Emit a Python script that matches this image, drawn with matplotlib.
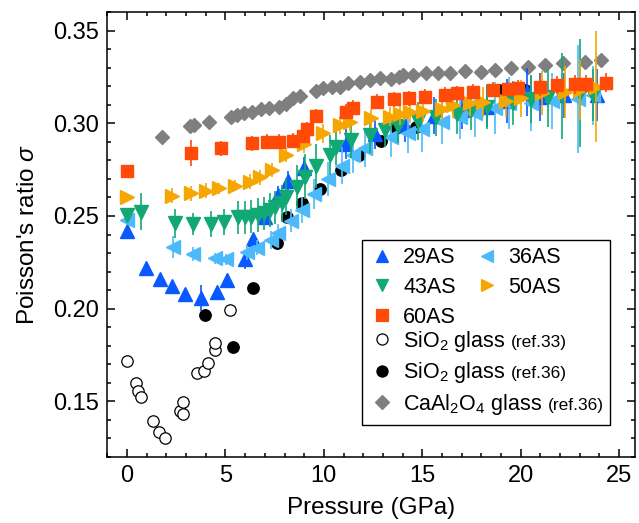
import matplotlib
matplotlib.use('Agg')
import matplotlib.pyplot as plt
from matplotlib.lines import Line2D
from matplotlib.patches import Rectangle
from matplotlib.ticker import MultipleLocator

plt.rcParams['font.family'] = ['Liberation Sans', 'DejaVu Sans']
plt.rcParams['mathtext.fontset'] = 'custom'
plt.rcParams['mathtext.rm'] = 'Liberation Sans'
plt.rcParams['mathtext.it'] = 'Liberation Sans:italic'
plt.rcParams['mathtext.bf'] = 'Liberation Sans:bold'

# ---------------- data ----------------
p29 = [0, 0.98, 1.66, 2.26, 2.93, 3.74, 4.57, 5.08, 5.98, 6.40, 7.03, 7.65, 8.2, 9.0,
       11.1, 12.6, 14.1, 15.6, 17.0, 18.3, 19.3, 20.3, 21.0, 22.2, 23.9]
s29 = [0.242, 0.222, 0.216, 0.212, 0.208, 0.206, 0.209, 0.2155, 0.2266, 0.2374, 0.2493,
       0.2613, 0.269, 0.276, 0.2887, 0.294, 0.299, 0.304, 0.307, 0.309, 0.312, 0.317,
       0.314, 0.315, 0.315]
e29 = [0.002, 0.002, 0.002, 0.002, 0.002, 0.007, 0.002, 0.003, 0.005, 0.003, 0.004,
       0.005, 0.005, 0.006, 0.008, 0.008, 0.009, 0.01, 0.01, 0.011, 0.012, 0.013,
       0.013, 0.012, 0.014]

p36 = [0, 2.34, 3.35, 4.46, 5.05, 6.07, 6.58, 7.29, 7.67, 8.35, 8.9, 9.5, 10.2, 10.9,
       11.5, 12.1, 13.4, 14.3, 15.0, 16.0, 16.9, 17.7, 18.7, 19.4, 20.5, 21.6, 22.9, 23.7]
s36 = [0.248, 0.2334, 0.2295, 0.2272, 0.2266, 0.2304, 0.2329, 0.237, 0.2407, 0.2475,
       0.2532, 0.262, 0.270, 0.277, 0.2829, 0.2865, 0.2928, 0.295, 0.2967, 0.3009,
       0.3035, 0.3054, 0.3081, 0.3108, 0.311, 0.312, 0.313, 0.315]
e36 = [0.003, 0.006, 0.004, 0.003, 0.003, 0.004, 0.004, 0.005, 0.005, 0.006, 0.007,
       0.008, 0.009, 0.01, 0.01, 0.01, 0.011, 0.011, 0.012, 0.012, 0.012, 0.013, 0.014,
       0.014, 0.015, 0.015, 0.029, 0.016]

p43 = [0, 0.70, 2.42, 3.35, 4.25, 4.93, 5.64, 6.0, 6.32, 6.66, 6.96, 7.25, 7.50, 7.85,
       8.10, 8.66, 9.03, 9.62, 10.3, 10.64, 11.4, 12.33, 13.09, 13.77, 14.79, 15.72,
       16.74, 17.5, 18.3, 19.6, 20.5, 21.4, 22.1, 23.0, 23.7]
s43 = [0.2505, 0.2523, 0.246, 0.2456, 0.2456, 0.2466, 0.2493, 0.2493, 0.2497, 0.2505,
       0.2514, 0.2532, 0.2546, 0.2568, 0.2604, 0.2656, 0.2712, 0.277, 0.2829, 0.2874,
       0.291, 0.2937, 0.2964, 0.2985, 0.3012, 0.3032, 0.305, 0.3072, 0.3089, 0.3108,
       0.3129, 0.314, 0.3147, 0.3162, 0.3153]
e43 = [0.004, 0.010, 0.008, 0.006, 0.007, 0.007, 0.009, 0.009, 0.009, 0.009, 0.009,
       0.009, 0.009, 0.010, 0.010, 0.012, 0.012, 0.012, 0.011, 0.010, 0.010, 0.010,
       0.009, 0.009, 0.010, 0.010, 0.011, 0.011, 0.012, 0.012, 0.013, 0.016, 0.023,
       0.029, 0.014]

p50 = [0, 2.26, 3.24, 4.03, 4.66, 5.47, 6.23, 6.74, 7.34, 8.10, 9.0, 9.96, 10.81, 11.32,
       12.42, 13.35, 13.86, 14.36, 15.04, 15.98, 16.57, 17.41, 18.09, 19.28, 20.04,
       21.06, 22.24, 23.0, 23.82]
s50 = [0.2601, 0.2609, 0.2622, 0.2636, 0.2649, 0.2663, 0.2685, 0.2709, 0.2748, 0.2829,
       0.289, 0.2946, 0.2991, 0.3009, 0.3027, 0.3035, 0.305, 0.3062, 0.3068, 0.3077,
       0.3099, 0.3108, 0.3116, 0.3122, 0.3135, 0.3162, 0.317, 0.318, 0.3197]
e50 = [0.002, 0.004, 0.004, 0.004, 0.003, 0.003, 0.004, 0.004, 0.004, 0.004, 0.005,
       0.005, 0.005, 0.005, 0.005, 0.005, 0.006, 0.006, 0.006, 0.006, 0.007, 0.007,
       0.008, 0.009, 0.010, 0.012, 0.014, 0.016, 0.030]

p60 = [0, 3.24, 4.75, 6.35, 7.13, 7.71, 8.43, 8.94, 9.15, 9.62, 11.15, 11.48, 12.7,
       13.55, 14.31, 15.13, 16.14, 16.74, 17.58, 18.6, 19.36, 19.87, 20.97, 21.85,
       22.75, 23.31, 24.32]
s60 = [0.2743, 0.2841, 0.2865, 0.2892, 0.2901, 0.2901, 0.2906, 0.2931, 0.2967, 0.3039,
       0.3062, 0.3084, 0.3116, 0.3129, 0.3135, 0.3143, 0.3153, 0.3162, 0.317, 0.318,
       0.3185, 0.3192, 0.3197, 0.3206, 0.321, 0.3212, 0.3219]
e60 = [0.001, 0.007, 0.004, 0.004, 0.004, 0.004, 0.004, 0.004, 0.004, 0.004, 0.004,
       0.004, 0.004, 0.004, 0.004, 0.004, 0.004, 0.004, 0.004, 0.004, 0.004, 0.004,
       0.005, 0.005, 0.005, 0.005, 0.005]

p_sio2_33 = [0.0, 0.43, 0.56, 0.70, 1.34, 1.63, 1.93, 2.68, 2.85, 2.85, 3.56, 3.90,
             4.12, 4.49, 4.49, 5.25]
s_sio2_33 = [0.1716, 0.1599, 0.1556, 0.1522, 0.1393, 0.1333, 0.1301, 0.1446, 0.143,
             0.1497, 0.1651, 0.1666, 0.1705, 0.1777, 0.1813, 0.1993]

p_sio2_36 = [3.96, 5.40, 6.40, 7.6, 8.15, 8.91, 9.79, 10.89, 11.79, 12.89, 13.65,
             14.70, 18.9, 20.2]
s_sio2_36 = [0.1966, 0.1795, 0.211, 0.2355, 0.2493, 0.2568, 0.2644, 0.2748, 0.2829,
             0.2904, 0.2973, 0.2978, 0.318, 0.318]

p_caal = [1.75, 3.2, 3.4, 4.15, 5.27, 5.6, 5.95, 6.35, 6.8, 7.2, 7.7, 8.1, 8.44, 8.78,
          9.6, 9.96, 10.4, 10.81, 11.23, 11.82, 12.33, 12.84, 13.43, 13.8, 14.02, 14.53,
          15.21, 15.8, 16.4, 17.16, 18.0, 18.68, 19.53, 20.38, 21.22, 22.15, 23.26, 24.1]
s_caal = [0.2924, 0.2985, 0.299, 0.3005, 0.3036, 0.3045, 0.3055, 0.3063, 0.3075, 0.308,
          0.309, 0.3105, 0.3135, 0.3147, 0.3175, 0.3192, 0.3195, 0.3197, 0.3215, 0.3224,
          0.3233, 0.3242, 0.3238, 0.325, 0.326, 0.326, 0.327, 0.327, 0.327, 0.328,
          0.3278, 0.3288, 0.3297, 0.3306, 0.3315, 0.3324, 0.3333, 0.3339]

x_ticks = [0, 5, 10, 15, 20, 25]
y_ticks = [0.15, 0.20, 0.25, 0.30, 0.35]

# ---------------- style ----------------
C29 = '#0A58FF'
C36 = '#4CBAFA'
C43 = '#12A874'
C50 = '#F5A600'
C60 = '#FF4A08'
CCA = '#7F7F7F'

fig = plt.figure(figsize=(6.39, 5.23), dpi=100)
ax = fig.add_axes([107 / 639, 1 - 457 / 523, (635 - 107) / 639, (457 - 12) / 523])

ms_tri = 9.5
ax.plot(p_sio2_33, s_sio2_33, 'o', ms=8.2, mfc='white', mec='black', mew=0.9,
        linestyle='none', zorder=2)
ax.plot(p_caal, s_caal, 'D', ms=7.6, color=CCA, linestyle='none', zorder=2)
ax.plot(p_sio2_36, s_sio2_36, 'o', ms=8.2, color='black', linestyle='none', zorder=3)


def eb(x, y, e, fmt, c, ms, z):
    ax.errorbar(x, y, yerr=e, fmt=fmt, ms=ms, color=c, mec=c, ecolor=c,
                elinewidth=1.2, capsize=0, linestyle='none', zorder=z)


eb(p29, s29, e29, '^', C29, ms_tri, 4)
eb(p36, s36, e36, '<', C36, ms_tri, 5)
eb(p43, s43, e43, 'v', C43, ms_tri, 6)
eb(p50, s50, e50, '>', C50, ms_tri, 7)
eb(p60, s60, e60, 's', C60, 9.0, 8)

ax.set_xlim(-1.02, 25.81)
ax.set_ylim(0.12, 0.36)
ax.set_xticks(x_ticks)
ax.set_yticks(y_ticks)
ax.set_yticklabels([f'{v:.2f}' for v in y_ticks])
ax.xaxis.set_minor_locator(MultipleLocator(1))
ax.yaxis.set_minor_locator(MultipleLocator(0.01))
ax.tick_params(which='both', direction='in', top=True, right=True, labelsize=17,
               width=1.1)
ax.tick_params(which='major', length=5.5, pad=6)
ax.tick_params(which='minor', length=2.8)
for s in ax.spines.values():
    s.set_linewidth(1.1)

ax.set_xlabel('Pressure (GPa)', fontsize=17.5, labelpad=7)
ax.set_ylabel("Poisson's ratio $\\mathit{\\sigma}$", fontsize=17.5, labelpad=10)

# ---------------- legend ----------------
def H(m, c, ms, mfc=None):
    return Line2D([], [], marker=m, linestyle='none', color=c, mec=c if mfc is None else 'black',
                  mfc=c if mfc is None else mfc, ms=ms, mew=0.9)

LFS = 15.5
hs1 = [H('^', C29, 8.8), H('v', C43, 8.8), H('s', C60, 8), H('<', C36, 8.8), H('>', C50, 8.8)]
lb1 = ['29AS', '43AS', '60AS', '36AS', '50AS']
leg1 = ax.legend(hs1, lb1, ncol=2, loc='upper left', bbox_to_anchor=(0.5005, 0.471),
                 frameon=False, fontsize=LFS, handlelength=1.0, handletextpad=0.48,
                 columnspacing=0.96, borderpad=0, borderaxespad=0, labelspacing=0.40)
ax.add_artist(leg1)

hs2 = [H('o', 'black', 8, mfc='white'), H('o', 'black', 8), H('D', CCA, 6.8)]
lb2 = ['SiO$_2$ glass', 'SiO$_2$ glass', 'CaAl$_2$O$_4$ glass']
refs = ['(ref.33)', '(ref.36)', '(ref.36)']
leg2 = ax.legend(hs2, lb2, loc='upper left', bbox_to_anchor=(0.5005, 0.288),
                 frameon=False, fontsize=LFS, handlelength=1.0, handletextpad=0.48,
                 borderpad=0, borderaxespad=0, labelspacing=0.3)
for t, r in zip(leg2.get_texts(), refs):
    ax.annotate(r, xy=(1, 0), xycoords=t, xytext=(4, 2.8), textcoords='offset points',
                ha='left', va='bottom', fontsize=12.5, zorder=20)

frame = Rectangle((0.483, 0.072), 0.47, 0.4156, transform=ax.transAxes, fill=True,
                  facecolor='white', edgecolor='black', linewidth=1.0, zorder=9)
ax.add_patch(frame)
leg1.set_zorder(15)
leg2.set_zorder(15)

fig.savefig('out.png', dpi=100)
